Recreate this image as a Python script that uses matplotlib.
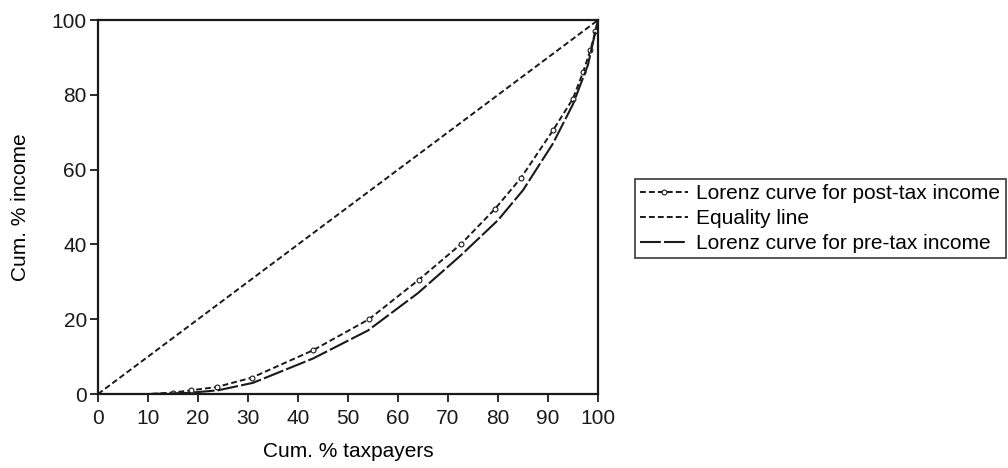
import matplotlib
matplotlib.use("Agg")
import matplotlib.pyplot as plt

plt.rcParams["font.family"] = ["Liberation Sans", "DejaVu Sans"]

# cumulative % of taxpayers / income
post_x = [0, 5, 10, 15, 18.6, 23.8, 30.8, 43, 54.2, 64.2, 72.6, 79.4, 84.6, 91, 95, 97, 98.5, 99.5, 100]
post_y = [0, 0, 0, 0.4, 1.0, 1.9, 4.4, 11.7, 20.0, 30.6, 40.1, 49.5, 57.8, 70.5, 79.0, 86.0, 92.0, 97.0, 100]
post_marked = [3, 4, 5, 6, 7, 8, 9, 10, 11, 12, 13, 14, 15, 16, 17]

pre_x = [0, 10, 18, 24, 31, 43, 54, 64, 72.5, 80, 85, 91, 95, 98, 100]
pre_y = [0, 0, 0.3, 1.0, 3.0, 9.5, 17.0, 27.0, 37.0, 46.5, 54.5, 67.0, 77.5, 88.0, 100]

eq_x = [0, 100]
eq_y = [0, 100]

fig = plt.figure(figsize=(10.08, 4.68), dpi=100)
ax = fig.add_axes([0.0972, 0.158, 0.496, 0.799])

ink = "#1a1a1a"
ax.plot(post_x, post_y, color=ink, lw=1.4, linestyle=(0, (3, 1.6)),
        marker="o", markersize=3.5, markerfacecolor="white", markeredgewidth=0.8,
        markevery=post_marked, label="Lorenz curve for post-tax income")
ax.plot(eq_x, eq_y, color=ink, lw=1.4, linestyle=(0, (3, 1.6)), label="Equality line")
ax.plot(pre_x, pre_y, color=ink, lw=1.5, linestyle=(0, (10, 1.5)),
        label="Lorenz curve for pre-tax income")

ax.set_xlim(0, 100)
ax.set_ylim(0, 100)
ax.set_xticks(range(0, 101, 10))
ax.set_yticks(range(0, 101, 20))
ax.tick_params(direction="out", length=6, width=1.3, labelsize=15, colors=ink, pad=2)
ax.tick_params(axis="x", pad=5)
for s in ax.spines.values():
    s.set_linewidth(1.6)
    s.set_color(ink)

ax.set_xlabel("Cum. % taxpayers", fontsize=15, labelpad=10)
ax.set_ylabel("Cum. % income", fontsize=15, labelpad=16)

leg = ax.legend(loc="upper left", bbox_to_anchor=(1.074, 0.575), fontsize=15,
                frameon=True, fancybox=False, edgecolor=ink,
                handlelength=2.3, handletextpad=0.4, borderpad=0.25,
                labelspacing=0.28, borderaxespad=0)
leg.get_frame().set_linewidth(1.3)

fig.savefig("out.png", dpi=100)
